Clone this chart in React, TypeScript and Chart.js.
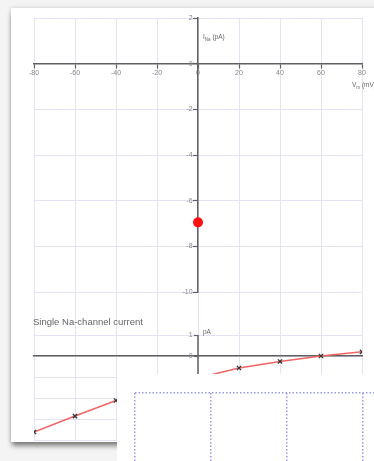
import React, { useEffect, useRef } from "react";
import { Chart, registerables } from "chart.js";

Chart.register(...registerables);
Chart.defaults.font.family = "'Liberation Sans', Arial, sans-serif";

// ---------- data ----------
const voltageMin = -80;
const voltageMax = 80;
const voltageStep = 20;

const topCurrentMin = -10;
const topCurrentMax = 2;
const topCurrentStep = 2;

const peakVoltage = [0];
const peakCurrent = [-6.95];

const singleVoltage = [-80, -60, -40, -20, 0, 20, 40, 60, 80];
const singleCurrent = [-3.62, -2.86, -2.12, -1.55, -1.05, -0.57, -0.26, 0, 0.2];

const bottomCurrentMin = -4;
const bottomCurrentMax = 3;
const bottomAxisTop = 1;

const panelColumns = [0, 4];
const panelRows = [0, 1];

const titleText = "Single Na-channel current";

// ---------- styles ----------
const gridColor = "#e3e3f5";
const axisColor = "#606060";
const tickLabelColor = "#858585";
// y labels are right-aligned at the axis itself; pad them past the tick marks
const yLabelGap = "\u2002 ";

function TopChart() {
  const ref = useRef<HTMLCanvasElement>(null);
  useEffect(() => {
    const chart = new Chart(ref.current!, {
      type: "scatter",
      data: {
        datasets: [
          {
            data: peakVoltage.map((v, i) => ({ x: v, y: peakCurrent[i] })),
            pointRadius: 5,
            backgroundColor: "#ff1111",
            borderColor: "#ff1111",
            borderWidth: 0,
          },
        ],
      },
      options: {
        animation: false,
        responsive: false,
        maintainAspectRatio: false,
        layout: { padding: { left: 34, right: 12, top: 18, bottom: 8 } },
        plugins: { legend: { display: false }, tooltip: { enabled: false } },
        scales: {
          x: {
            type: "linear",
            position: { y: 0 } as any,
            min: voltageMin,
            max: voltageMax,
            ticks: { stepSize: voltageStep, color: tickLabelColor, font: { size: 7 }, padding: 1, maxRotation: 0, autoSkip: false },
            grid: { color: gridColor, tickColor: axisColor, tickLength: 4, lineWidth: 1, tickWidth: 1.2 },
            border: { color: axisColor, width: 1.5 },
          },
          y: {
            type: "linear",
            position: { x: 0 } as any,
            min: topCurrentMin,
            max: topCurrentMax,
            ticks: {
              stepSize: topCurrentStep,
              color: tickLabelColor,
              font: { size: 7 },
              padding: 2,
              autoSkip: false,
              callback: (v: any) => String(v) + yLabelGap,
            },
            grid: { color: gridColor, tickColor: axisColor, tickLength: 4, lineWidth: 1, tickWidth: 1.2 },
            border: { color: axisColor, width: 1.5 },
          },
        },
      },
    });
    return () => chart.destroy();
  }, []);
  return (
    <canvas
      ref={ref}
      width={374}
      height={300}
      style={{ position: "absolute", left: 0, top: 0, width: 374, height: 300 }}
    />
  );
}

function BottomChart() {
  const ref = useRef<HTMLCanvasElement>(null);
  useEffect(() => {
    const chart = new Chart(ref.current!, {
      type: "scatter",
      data: {
        datasets: [
          {
            data: singleVoltage.map((v, i) => ({ x: v, y: singleCurrent[i] })),
            showLine: true,
            borderColor: "#f06464",
            borderWidth: 1.5,
            pointStyle: "crossRot",
            pointRadius: 3,
            pointBorderColor: "#333333",
            pointBorderWidth: 1.3,
            pointBackgroundColor: "#333333",
          },
          {
            data: [
              { x: 0, y: bottomAxisTop },
              { x: 0, y: bottomCurrentMin },
            ],
            showLine: true,
            borderColor: axisColor,
            borderWidth: 1.5,
            pointRadius: 0,
          },
        ],
      },
      options: {
        animation: false,
        responsive: false,
        maintainAspectRatio: false,
        layout: { padding: { left: 34, right: 12, top: 13, bottom: 10 } },
        plugins: { legend: { display: false }, tooltip: { enabled: false } },
        scales: {
          x: {
            type: "linear",
            position: { y: 0 } as any,
            min: voltageMin,
            max: voltageMax,
            ticks: { stepSize: voltageStep, display: false },
            grid: { color: gridColor, drawTicks: false, lineWidth: 1 },
            border: { color: axisColor, width: 1.5 },
          },
          y: {
            type: "linear",
            position: { x: 0 } as any,
            min: bottomCurrentMin,
            max: bottomCurrentMax,
            ticks: {
              stepSize: 1,
              color: tickLabelColor,
              font: { size: 7 },
              padding: 2,
              autoSkip: false,
              callback: (v: any) => (Number(v) <= bottomAxisTop ? String(v) + yLabelGap : ""),
            },
            grid: {
              color: (ctx: any) => (ctx.tick && ctx.tick.value > bottomAxisTop ? "rgba(0,0,0,0)" : gridColor),
              tickColor: (ctx: any) => (ctx.tick && ctx.tick.value > bottomAxisTop ? "rgba(0,0,0,0)" : axisColor),
              tickLength: 4,
              tickWidth: 1.2,
              lineWidth: 1,
            },
            border: { display: false },
          },
        },
      },
    });
    return () => chart.destroy();
  }, []);
  return (
    <canvas
      ref={ref}
      width={374}
      height={170}
      style={{ position: "absolute", left: 0, top: 280, width: 374, height: 170 }}
    />
  );
}

function PanelChart() {
  const ref = useRef<HTMLCanvasElement>(null);
  useEffect(() => {
    const chart = new Chart(ref.current!, {
      type: "scatter",
      data: { datasets: [{ data: [] }] },
      options: {
        animation: false,
        responsive: false,
        maintainAspectRatio: false,
        layout: { padding: { left: 18, right: 0, top: 19, bottom: 0 } },
        plugins: { legend: { display: false }, tooltip: { enabled: false } },
        scales: {
          x: {
            type: "linear",
            min: panelColumns[0],
            max: panelColumns[1],
            ticks: { stepSize: 1, display: false },
            grid: { color: "rgba(120,120,225,0.75)", lineWidth: 1.5, drawTicks: false },
            border: { display: false, dash: [1.5, 2] },
          },
          y: {
            type: "linear",
            min: panelRows[0],
            max: panelRows[1],
            ticks: { stepSize: 1, display: false },
            grid: { color: "rgba(120,120,225,0.75)", lineWidth: 1.5, drawTicks: false },
            border: { display: false, dash: [1.5, 2] },
          },
        },
      },
    });
    return () => chart.destroy();
  }, []);
  return (
    <canvas ref={ref} width={322} height={100} style={{ position: "absolute", left: 0, top: 0, width: 322, height: 100 }} />
  );
}

const labelFont = "'Liberation Sans', Arial, sans-serif";

export default function App() {
  return (
    <div
      style={{
        position: "absolute",
        left: 0,
        top: 0,
        width: 374,
        height: 461,
        overflow: "hidden",
        background: "#f4f4f4",
        fontFamily: labelFont,
        filter: "blur(0.35px)",
      }}
    >
      <div
        style={{
          position: "absolute",
          left: 11,
          top: 8,
          width: 420,
          height: 434,
          background: "#ffffff",
          boxShadow: "0 0 4px rgba(0,0,0,0.18), 0 5px 5px -1px rgba(0,0,0,0.45)",
        }}
      />
      <TopChart />
      <BottomChart />
      <div style={{ position: "absolute", left: 203, top: 33, fontSize: 6.5, color: "#666", whiteSpace: "nowrap" }}>
        I<sub style={{ fontSize: 4.5 }}>Na</sub> (pA)
      </div>
      <div style={{ position: "absolute", left: 352, top: 81, fontSize: 6.5, color: "#666", whiteSpace: "nowrap" }}>
        V<sub style={{ fontSize: 4.5 }}>m</sub> (mV)
      </div>
      <div style={{ position: "absolute", left: 203, top: 328, fontSize: 6.5, color: "#666", whiteSpace: "nowrap" }}>
        pA
      </div>
      <div style={{ position: "absolute", left: 33, top: 316, fontSize: 9.5, color: "#666", whiteSpace: "nowrap" }}>
        {titleText}
      </div>
      <div
        style={{
          position: "absolute",
          left: 117,
          top: 374,
          width: 300,
          height: 100,
          background: "#ffffff",
        }}
      >
        <PanelChart />
      </div>
    </div>
  );
}
